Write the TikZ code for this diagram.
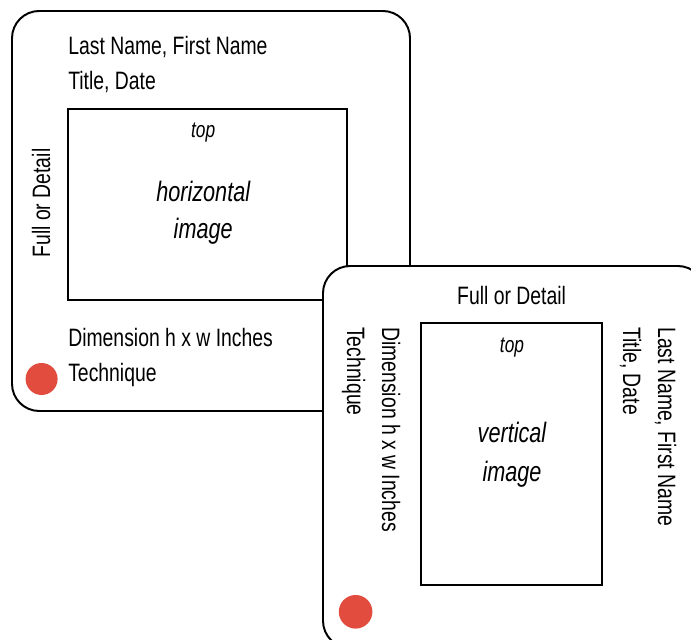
\documentclass[tikz,border=0pt]{standalone}
\usepackage{fontspec}
\setmainfont{Liberation Sans}[FakeStretch=0.77]
\usepackage{tikz}
\usetikzlibrary{calc}
\usepackage{xcolor}
\definecolor{dotred}{RGB}{226,76,62}

\tikzset{
  card/.style={line width=1.4pt, rounded corners=0.68cm, fill=white},
  imgframe/.style={line width=1.4pt, fill=none},
  labeltext/.style={font=\fontsize{17.9}{22}\selectfont, inner sep=0pt},
  imgtext/.style={font=\fontsize{20}{24}\selectfont\itshape, inner sep=0pt},
  toptext/.style={font=\fontsize{16}{20}\selectfont\itshape, inner sep=0pt},
}

\begin{document}
\begin{tikzpicture}
\useasboundingbox (0,0) rectangle (17.275,15.975);
\clip (0,0) rectangle (17.275,15.975);

% horizontal card
\filldraw[card] (0.30,5.70) rectangle (10.25,15.70);
\filldraw[imgframe] (1.70,8.475) rectangle (8.675,13.25);
\fill[dotred] (1.04,6.50) circle (0.40);

\node[labeltext, anchor=base west] (hname) at (1.70,14.60) {Last Name, First Name};
\node[labeltext, anchor=base west] (htitle) at (1.70,13.725) {Title, Date};
\node[labeltext, anchor=base, rotate=90] (hfull) at (1.25,10.90) {Full or Detail};
\node[labeltext, anchor=base west] (hdim) at (1.70,7.30) {Dimension h x w Inches};
\node[labeltext, anchor=base west] (htech) at (1.70,6.425) {Technique};

\node[toptext, anchor=base] (htop) at (5.08,12.525) {top};
\node[imgtext, anchor=base] (hhoriz) at (5.08,10.925) {horizontal};
\node[imgtext, anchor=base] (himage) at (5.08,10.00) {image};

% vertical card
\filldraw[card] (8.075,-0.225) rectangle (17.625,9.325);
\filldraw[imgframe] (10.525,1.35) rectangle (15.05,7.90);
\fill[dotred] (8.89,0.68) circle (0.42);

\node[labeltext, anchor=base] (vfull) at (12.79,8.35) {Full or Detail};
\node[labeltext, anchor=base west, rotate=-90] (vname) at (16.45,7.80) {Last Name, First Name};
\node[labeltext, anchor=base west, rotate=-90] (vtitle) at (15.575,7.80) {Title, Date};
\node[labeltext, anchor=base west, rotate=-90] (vdim) at (9.55,7.80) {Dimension h x w Inches};
\node[labeltext, anchor=base west, rotate=-90] (vtech) at (8.675,7.80) {Technique};

\node[toptext, anchor=base] (vtop) at (12.80,7.15) {top};
%\node[imgtext, anchor=base] at (12.80,4.50) {image};
\node[imgtext, anchor=base] (vvert) at (12.80,4.91) {vertical};
\node[imgtext, anchor=base] (vimage) at (12.80,3.93) {image};
\end{tikzpicture}
\end{document}
